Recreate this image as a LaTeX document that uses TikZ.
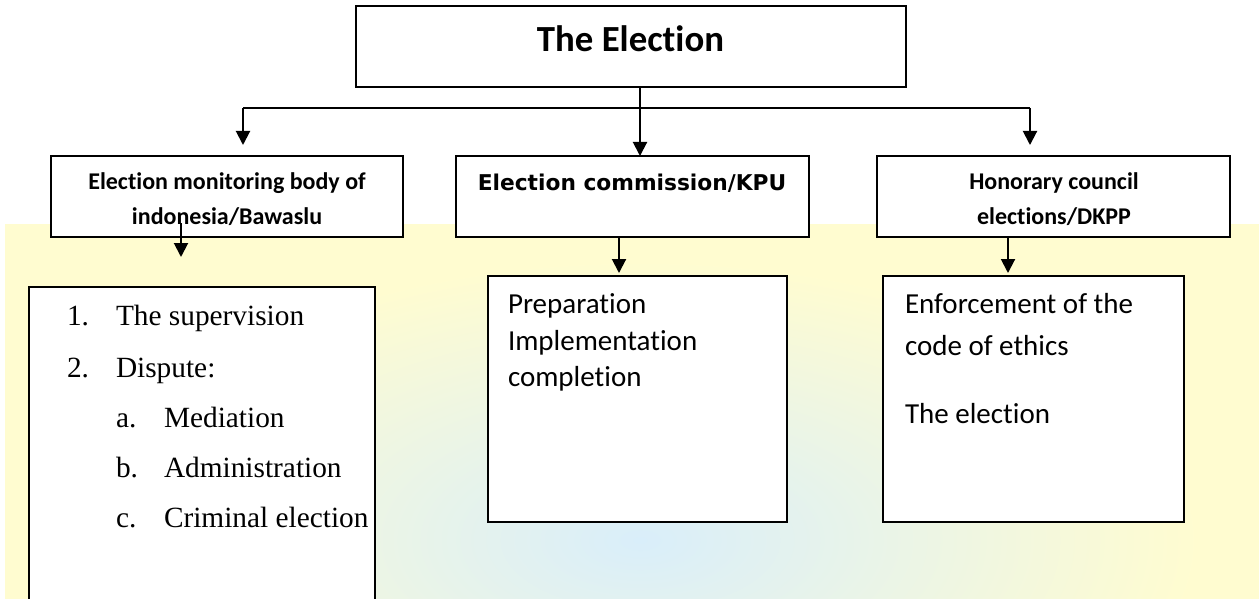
\documentclass[tikz,border=0pt]{standalone}
\usepackage{fontspec}
\setmainfont{Liberation Serif}
\newfontfamily\calfont{Carlito}[Ligatures=CommonOff]
\newfontfamily\tahfont{DejaVu Sans}
\usetikzlibrary{arrows.meta,calc}
\definecolor{bgyellow}{HTML}{FFFCD0}
\definecolor{bgblue}{HTML}{D9EEFA}
\begin{document}
\begin{tikzpicture}[x=0.75pt,y=-0.75pt,
  box/.style={draw,fill=white,line width=1.3pt,rectangle,inner sep=0pt,outer sep=0pt},
  conn/.style={line width=1.5pt},
  arr/.style={line width=1.5pt,-{Triangle[length=10.5pt,width=10.5pt]}},
  txt/.style={inner sep=0pt,outer sep=0pt},
  titlefont/.style={font=\calfont\bfseries\fontsize{27.6pt}{33pt}\selectfont},
  headfont/.style={font=\calfont\bfseries\fontsize{18pt}{25.5pt}\selectfont},
  kpufont/.style={font=\tahfont\bfseries\fontsize{16.3pt}{20pt}\selectfont},
  listfont/.style={font=\fontsize{22pt}{26pt}\selectfont},
  bodyfont/.style={font=\calfont\fontsize{21.75pt}{27pt}\selectfont}]
\useasboundingbox (0,0) rectangle (1259,599);
% background
\fill[bgyellow] (5,224) rectangle (1259,599);
\begin{scope}
  \clip (5,224) rectangle (1259,599);
  \shade[inner color=bgblue, outer color=bgyellow] (640,540) ellipse [x radius=560, y radius=280];
\end{scope}
% boxes
\node[box,minimum width=412.5pt,minimum height=60.75pt] (top) at (631,46.5) {};
\node[box,minimum width=264pt,minimum height=60.75pt] (bawaslu) at (227,196.5) {};
\node[box,minimum width=264.75pt,minimum height=60.75pt] (kpu) at (632.5,196.5) {};
\node[box,minimum width=264.75pt,minimum height=60.75pt] (dkpp) at (1053.5,196.5) {};
\node[box,minimum width=259.5pt,minimum height=264.75pt] (duties) at (202,463.5) {};
\node[box,minimum width=224.25pt,minimum height=184.5pt] (stages) at (637.5,399) {};
\node[box,minimum width=225.75pt,minimum height=184.5pt] (ethics) at (1033.5,399) {};
% texts
\node[txt,titlefont,anchor=base] (ttitle) at (630.5,52) {The Election};
\node[txt,headfont,anchor=base] (tb1) at (227,190) {Election monitoring body of};
\node[txt,headfont,anchor=base] (tb2) at (227,224) {indonesia/Bawaslu};
\node[txt,kpufont,anchor=base] (tk) at (632,190.6) {Election commission/KPU};
\node[txt,headfont,anchor=base] (td1) at (1054,190) {Honorary council};
\node[txt,headfont,anchor=base] (td2) at (1054,224) {elections/DKPP};
% list
\node[txt,listfont,anchor=base west] (n1) at (67,325) {1.};
\node[txt,listfont,anchor=base west] (l1) at (116,325) {The supervision};
\node[txt,listfont,anchor=base west] (n2) at (67,377) {2.};
\node[txt,listfont,anchor=base west] (l2) at (116,377) {Dispute:};
\node[txt,listfont,anchor=base west] (na) at (116,427) {a.};
\node[txt,listfont,anchor=base west] (la) at (164,427) {Mediation};
\node[txt,listfont,anchor=base west] (nb) at (116,477) {b.};
\node[txt,listfont,anchor=base west] (lb) at (164,477) {Administration};
\node[txt,listfont,anchor=base west] (nc) at (116,527) {c.};
\node[txt,listfont,anchor=base west] (lc) at (164,527) {Criminal election};
% stages
\node[txt,bodyfont,anchor=base west] (s1) at (508,313) {Preparation};
\node[txt,bodyfont,anchor=base west] (s2) at (508,350) {Implementation};
\node[txt,bodyfont,anchor=base west] (s3) at (508,386) {completion};
% ethics
\node[txt,bodyfont,anchor=base west] (e1) at (905,313) {Enforcement of the};
\node[txt,bodyfont,anchor=base west] (e2) at (905,355) {code of ethics};
\node[txt,bodyfont,anchor=base west] (e3) at (905,423) {The election};
% connectors
\coordinate (busL) at (243,108);
\coordinate (busC) at (640,108);
\coordinate (busR) at (1030,108);
\draw[conn] (top.south -| busC) -- (busC);
\draw[conn] (busL) -- (busR);
\draw[arr] (busC) -- (busC |- kpu.north);
\draw[arr] (busL) -- ($(busL |- bawaslu.north)+(0,-11)$);
\draw[arr] (busR) -- ($(busR |- dkpp.north)+(0,-11)$);
\coordinate (bstart) at (181,223);
\draw[arr] (bstart) -- ($(bstart |- duties.north)+(0,-30)$);
\coordinate (kx) at (619,0);
\coordinate (dx) at (1008,0);
\draw[arr] (kpu.south -| kx) -- ($(stages.north -| kx)+(0,-3)$);
\draw[arr] (dkpp.south -| dx) -- ($(ethics.north -| dx)+(0,-3)$);
\end{tikzpicture}
\end{document}
